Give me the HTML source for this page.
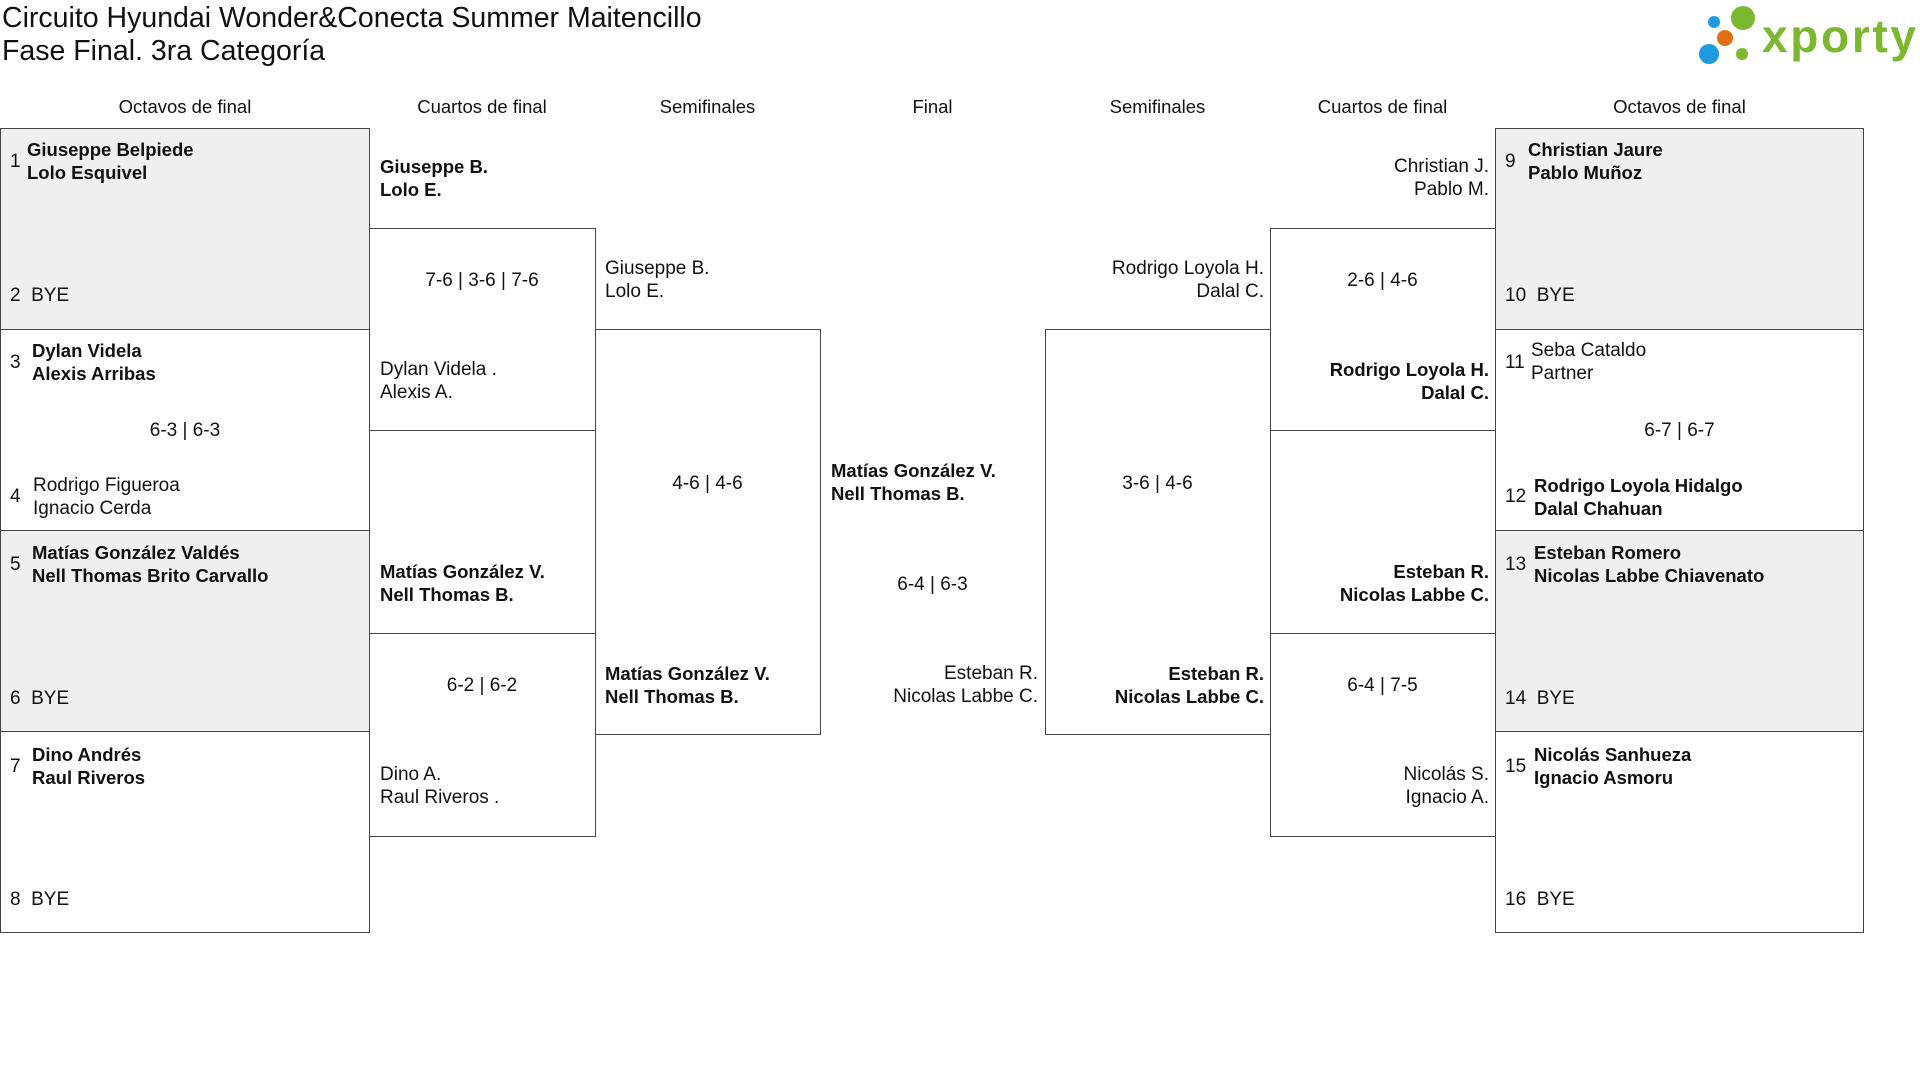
<!DOCTYPE html>
<html><head><meta charset="utf-8"><style>
body{margin:0;width:1920px;height:1067px;background:#fff;position:relative;overflow:hidden;font-family:"Liberation Sans",sans-serif;color:#111}
.a{position:absolute;white-space:nowrap}
.box{position:absolute;border:1.3px solid #444;box-sizing:border-box}
.g{background:#efefef}
.t{position:absolute;font-size:19px;line-height:23px;white-space:nowrap}
.b{font-weight:bold;font-size:18.5px}
.r{text-align:right}
.c{text-align:center}
.h{position:absolute;top:96px;font-size:18.5px;text-align:center}
</style></head><body>
<div class="a" style="left:2px;top:2px;font-size:28.5px;line-height:33px">Circuito Hyundai Wonder&amp;Conecta Summer Maitencillo<br>Fase Final. 3ra Categoría</div>
<svg class="a" style="left:1690px;top:0" width="230" height="75">
<circle cx="24" cy="22" r="6" fill="#1e9be0"/><circle cx="19" cy="54" r="10" fill="#1e9be0"/>
<circle cx="35" cy="38" r="8" fill="#e46d12"/><circle cx="53" cy="18" r="12" fill="#7cb82f"/><circle cx="52" cy="54" r="6" fill="#7cb82f"/>
<text x="72" y="52" font-family="Liberation Sans" font-weight="bold" font-size="46" fill="#7cb82f" textLength="154">xporty</text></svg>

<div class="h" style="left:0;width:370px">Octavos de final</div>
<div class="h" style="left:369px;width:226px">Cuartos de final</div>
<div class="h" style="left:595px;width:225px">Semifinales</div>
<div class="h" style="left:820px;width:225px">Final</div>
<div class="h" style="left:1045px;width:225px">Semifinales</div>
<div class="h" style="left:1270px;width:225px">Cuartos de final</div>
<div class="h" style="left:1495px;width:369px">Octavos de final</div>

<div class="box g" style="left:0;top:128px;width:370px;height:202px"></div>
<div class="box" style="left:0;top:329px;width:370px;height:202px"></div>
<div class="box g" style="left:0;top:530px;width:370px;height:202px"></div>
<div class="box" style="left:0;top:731px;width:370px;height:202px"></div>
<div class="box g" style="left:1495px;top:128px;width:369px;height:202px"></div>
<div class="box" style="left:1495px;top:329px;width:369px;height:202px"></div>
<div class="box g" style="left:1495px;top:530px;width:369px;height:202px"></div>
<div class="box" style="left:1495px;top:731px;width:369px;height:202px"></div>
<div class="box" style="left:369px;top:228px;width:227px;height:203px"></div>
<div class="box" style="left:369px;top:633px;width:227px;height:204px"></div>
<div class="box" style="left:1270px;top:228px;width:226px;height:203px"></div>
<div class="box" style="left:1270px;top:633px;width:226px;height:204px"></div>
<div class="box" style="left:595px;top:329px;width:226px;height:406px"></div>
<div class="box" style="left:1045px;top:329px;width:226px;height:406px"></div>

<div class="t" style="left:10px;top:150px">1</div>
<div class="t b" style="left:27px;top:138px">Giuseppe Belpiede<br>Lolo Esquivel</div>
<div class="t" style="left:10px;top:284px">2&nbsp; BYE</div>
<div class="t" style="left:10px;top:351px">3</div>
<div class="t b" style="left:32px;top:339px">Dylan Videla<br>Alexis Arribas</div>
<div class="t c" style="left:0;width:370px;top:419px">6-3 | 6-3</div>
<div class="t" style="left:10px;top:485px">4</div>
<div class="t" style="left:33px;top:474px">Rodrigo Figueroa<br>Ignacio Cerda</div>
<div class="t" style="left:10px;top:553px">5</div>
<div class="t b" style="left:32px;top:541px">Matías González Valdés<br>Nell Thomas Brito Carvallo</div>
<div class="t" style="left:10px;top:687px">6&nbsp; BYE</div>
<div class="t" style="left:10px;top:755px">7</div>
<div class="t b" style="left:32px;top:743px">Dino Andrés<br>Raul Riveros</div>
<div class="t" style="left:10px;top:888px">8&nbsp; BYE</div>

<div class="t" style="left:1505px;top:150px">9</div>
<div class="t b" style="left:1528px;top:138px">Christian Jaure<br>Pablo Muñoz</div>
<div class="t" style="left:1505px;top:284px">10&nbsp; BYE</div>
<div class="t" style="left:1505px;top:351px">11</div>
<div class="t" style="left:1531px;top:339px">Seba Cataldo<br>Partner</div>
<div class="t c" style="left:1495px;width:369px;top:419px">6-7 | 6-7</div>
<div class="t" style="left:1505px;top:485px">12</div>
<div class="t b" style="left:1534px;top:474px">Rodrigo Loyola Hidalgo<br>Dalal Chahuan</div>
<div class="t" style="left:1505px;top:553px">13</div>
<div class="t b" style="left:1534px;top:541px">Esteban Romero<br>Nicolas Labbe Chiavenato</div>
<div class="t" style="left:1505px;top:687px">14&nbsp; BYE</div>
<div class="t" style="left:1505px;top:755px">15</div>
<div class="t b" style="left:1534px;top:743px">Nicolás Sanhueza<br>Ignacio Asmoru</div>
<div class="t" style="left:1505px;top:888px">16&nbsp; BYE</div>

<div class="t b" style="left:380px;top:155px">Giuseppe B.<br>Lolo E.</div>
<div class="t c" style="left:369px;width:226px;top:269px">7-6 | 3-6 | 7-6</div>
<div class="t" style="left:380px;top:358px">Dylan Videla .<br>Alexis A.</div>
<div class="t b" style="left:380px;top:560px">Matías González V.<br>Nell Thomas B.</div>
<div class="t c" style="left:369px;width:226px;top:674px">6-2 | 6-2</div>
<div class="t" style="left:380px;top:763px">Dino A.<br>Raul Riveros .</div>

<div class="t r" style="right:431px;top:155px">Christian J.<br>Pablo M.</div>
<div class="t c" style="left:1270px;width:225px;top:269px">2-6 | 4-6</div>
<div class="t r b" style="right:431px;top:358px">Rodrigo Loyola H.<br>Dalal C.</div>
<div class="t r b" style="right:431px;top:560px">Esteban R.<br>Nicolas Labbe C.</div>
<div class="t c" style="left:1270px;width:225px;top:674px">6-4 | 7-5</div>
<div class="t r" style="right:431px;top:763px">Nicolás S.<br>Ignacio A.</div>

<div class="t" style="left:605px;top:257px">Giuseppe B.<br>Lolo E.</div>
<div class="t c" style="left:595px;width:225px;top:472px">4-6 | 4-6</div>
<div class="t b" style="left:605px;top:662px">Matías González V.<br>Nell Thomas B.</div>

<div class="t r" style="right:656px;top:257px">Rodrigo Loyola H.<br>Dalal C.</div>
<div class="t c" style="left:1045px;width:225px;top:472px">3-6 | 4-6</div>
<div class="t r b" style="right:656px;top:662px">Esteban R.<br>Nicolas Labbe C.</div>

<div class="t b" style="left:831px;top:459px">Matías González V.<br>Nell Thomas B.</div>
<div class="t c" style="left:820px;width:225px;top:573px">6-4 | 6-3</div>
<div class="t r" style="right:882px;top:662px">Esteban R.<br>Nicolas Labbe C.</div>
</body></html>
